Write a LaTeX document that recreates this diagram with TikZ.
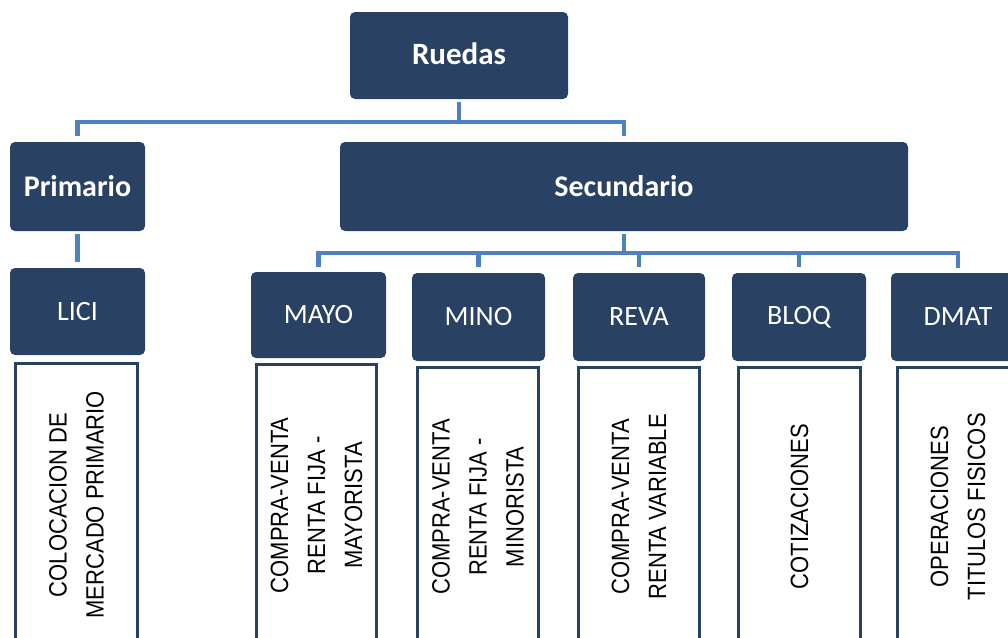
\documentclass[tikz,border=0pt]{standalone}
\usepackage{fontspec}
\setmainfont{Carlito}
\newfontfamily\descfont[FakeStretch=0.88]{Liberation Sans}
\usetikzlibrary{calc}
\definecolor{navy}{RGB}{41,65,99}
\definecolor{linkblue}{RGB}{79,129,189}
\tikzset{
  box/.style={fill=navy, rounded corners=5pt, text=white, inner sep=0pt, anchor=center},
  head/.style={box, font=\bfseries\fontsize{30}{36}\selectfont},
  leaf/.style={box, font=\fontsize{28}{34}\selectfont},
  desc/.style={draw=navy, line width=3pt, fill=white, rotate=90, align=center,
    font=\descfont\fontsize{25}{37}\selectfont, inner sep=0pt, anchor=center},
  conn/.style={draw=linkblue, line width=4.5pt}
}
\begin{document}
\begin{tikzpicture}[x=1pt,y=-1pt]
\useasboundingbox (0,0) rectangle (1008,637);
\clip (0,0) rectangle (1008,637);
% top level
\node[head, font=\bfseries\fontsize{31}{36}\selectfont, minimum width=218pt, minimum height=87pt] (ruedas) at (459,55.5) {\raisebox{3pt}{Ruedas}};
\node[head, minimum width=135pt, minimum height=89pt] (primario) at (77.5,186.5) {Primario};
\node[head, minimum width=568pt, minimum height=89pt] (secundario) at (624,186.5) {Secundario};
% leaves
\node[leaf, minimum width=135pt, minimum height=87pt] (lici) at (77.5,311.5) {\raisebox{1pt}{LICI}};
\node[leaf, minimum width=135pt, minimum height=86pt] (mayo) at (318.5,315) {\raisebox{1pt}{MAYO}};
\node[leaf, minimum width=133pt, minimum height=88pt] (mino) at (478.5,317) {\raisebox{1pt}{MINO}};
\node[leaf, minimum width=132pt, minimum height=88pt] (reva) at (639,317) {\raisebox{1pt}{REVA}};
\node[leaf, minimum width=134pt, minimum height=88pt] (bloq) at (799,317) {\raisebox{1pt}{BLOQ}};
\node[leaf, minimum width=134pt, minimum height=88pt] (dmat) at (958,317) {\raisebox{1pt}{DMAT}};
% descriptions
\node[desc, minimum width=282.5pt, minimum height=122pt] (dlici) at (76.5,504.75) {COLOCACION DE\\MERCADO PRIMARIO};
\node[desc, minimum width=281.5pt, minimum height=120pt] (dmayo) at (316.5,505.25) {COMPRA-VENTA\\RENTA FIJA -\\MAYORISTA};
\node[desc, minimum width=278.5pt, minimum height=121pt] (dmino) at (478,506.75) {COMPRA-VENTA\\RENTA FIJA -\\MINORISTA};
\node[desc, minimum width=278.5pt, minimum height=121pt] (dreva) at (639,506.75) {COMPRA-VENTA\\RENTA VARIABLE};
\node[desc, minimum width=278.5pt, minimum height=122pt] (dbloq) at (799.5,506.75) {COTIZACIONES};
\node[desc, minimum width=278.5pt, minimum height=121pt] (ddmat) at (958,506.75) {OPERACIONES\\TITULOS FISICOS};
% connectors
\coordinate (busA) at (459,122);
\coordinate (busB) at (624,253);
\draw[conn] ([yshift=-3pt]ruedas.south) -- (busA);
\draw[conn] ([yshift=6pt]primario.north) |- (busA) -| ([yshift=6pt]secundario.north);
\draw[conn] ([yshift=-3pt]primario.south) -- ([yshift=6pt]lici.north);
\draw[conn] ([yshift=-3pt]secundario.south) -- (busB);
\draw[conn] ([yshift=5pt]mayo.north) |- (busB) -| ([yshift=5pt]dmat.north);
\draw[conn] ([yshift=6pt]mino.north) -- (mino.north |- busB);
\draw[conn] ([yshift=6pt]reva.north) -- (reva.north |- busB);
\draw[conn] ([yshift=6pt]bloq.north) -- (bloq.north |- busB);
\end{tikzpicture}
\end{document}
